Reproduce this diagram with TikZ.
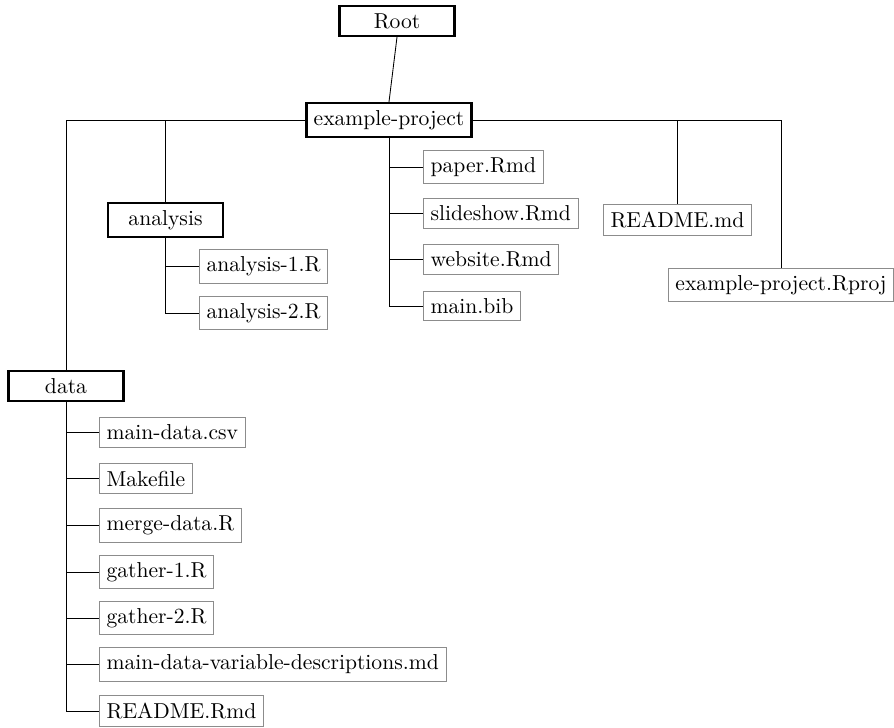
\documentclass[tikz,border=0pt]{standalone}
\usepackage{tikz}
\begin{document}
\begin{tikzpicture}[x=0.463pt,y=-0.463pt,
  dirbox/.style={draw=black,very thick,fill=white,minimum width=53.4pt},
  filebox/.style={draw=black!45,thin,fill=white},
  conn/.style={draw=black,thin}]
\useasboundingbox (0,0) rectangle (894,727);
% folders
\node[dirbox] (root) at (397,21) {Root};
\node[dirbox] (ep) at (389,120) {example-project};
\node[dirbox] (an) at (165.5,220) {analysis};
\node[dirbox] (data) at (66,386) {data};
% files
\node[filebox,anchor=west] (a1) at (199,266.5) {analysis-1.R};
\node[filebox,anchor=west] (a2) at (199,313) {analysis-2.R};
\node[filebox,anchor=west] (paper) at (423,167) {paper.Rmd};
\node[filebox,anchor=west] (slides) at (423,213.5) {slideshow.Rmd};
\node[filebox,anchor=west] (web) at (423,259.5) {website.Rmd};
\node[filebox,anchor=west] (bib) at (423,306) {main.bib};
\node[filebox] (readme) at (677.5,220) {README.md};
\node[filebox] (rproj) at (781,285) {example-project.Rproj};
\node[filebox,anchor=west] (d1) at (99,432.5) {main-data.csv};
\node[filebox,anchor=west] (d2) at (99,478.5) {Makefile};
\node[filebox,anchor=west] (d3) at (99,525.5) {merge-data.R};
\node[filebox,anchor=west] (d4) at (99,572) {gather-1.R};
\node[filebox,anchor=west] (d5) at (99,618) {gather-2.R};
\node[filebox,anchor=west] (d6) at (99,664.5) {main-data-variable-descriptions.md};
\node[filebox,anchor=west] (d7) at (99,711) {README.Rmd};
% connectors
\draw[conn] (root.south) -- (ep.north);
\draw[conn] (ep.west) -| (data.north);
\draw[conn] (ep.west) -| (an.north);
\draw[conn] (ep.east) -| (readme.north);
\draw[conn] (ep.east) -| (rproj.north);
\foreach \f in {paper,slides,web,bib} \draw[conn] (ep.south) |- (\f.west);
\foreach \f in {a1,a2} \draw[conn] (an.south) |- (\f.west);
\foreach \f in {d1,d2,d3,d4,d5,d6,d7} \draw[conn] (data.south) |- (\f.west);
\end{tikzpicture}
\end{document}
